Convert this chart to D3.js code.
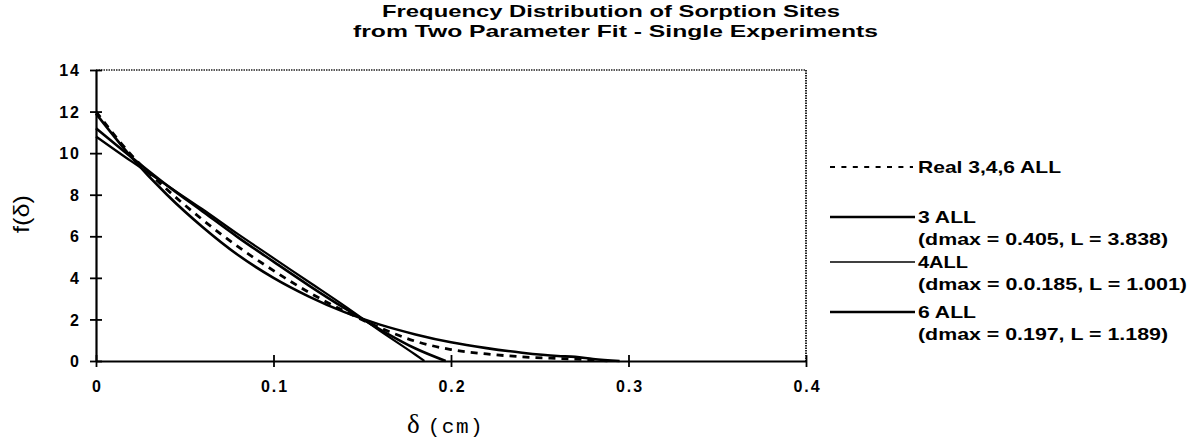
<!DOCTYPE html>
<html>
<head>
<meta charset="utf-8">
<script src="https://cdn.jsdelivr.net/npm/d3@7"></script>
<style>
  html, body { margin: 0; padding: 0; background: #fff; }
  svg { display: block; }
  text { fill: #000; }
</style>
</head>
<body>
<svg id="chart" width="1197" height="446"></svg>
<script>
// ---- Data ----
const titleLines = ["Frequency Distribution of Sorption Sites", "from Two Parameter Fit - Single Experiments"];
const xTicks = [0, 0.1, 0.2, 0.3, 0.4];
const xTickLabels = ["0", "0.1", "0.2", "0.3", "0.4"];
const yTicks = [0, 2, 4, 6, 8, 10, 12, 14];
const yTickLabels = ["0", "2", "4", "6", "8", "10", "12", "14"];

// Real 3,4,6 ALL (dashed)
const deltaReal = [0, 0.02, 0.04, 0.06, 0.08, 0.10, 0.12, 0.14, 0.16, 0.18, 0.20, 0.22, 0.24, 0.26, 0.28, 0.29];
const fReal     = [12.0, 9.9, 8.25, 6.8, 5.5, 4.35, 3.3, 2.4, 1.6, 0.95, 0.55, 0.34, 0.2, 0.12, 0.05, 0.0];

// 3 ALL (dmax = 0.405, L = 3.838)
const delta3 = [0, 0.02, 0.04, 0.06, 0.08, 0.10, 0.12, 0.14, 0.16, 0.18, 0.20, 0.22, 0.24, 0.26, 0.27, 0.28, 0.295];
const f3     = [11.9, 9.8, 8.0, 6.45, 5.1, 4.0, 3.1, 2.35, 1.75, 1.28, 0.9, 0.62, 0.4, 0.24, 0.2, 0.1, 0.0];

// 4ALL (dmax = 0.0.185, L = 1.001)
const delta4 = [0, 0.02, 0.04, 0.06, 0.08, 0.10, 0.12, 0.14, 0.16, 0.18, 0.185];
const f4     = [10.8, 9.6, 8.45, 7.3, 6.1, 4.95, 3.8, 2.65, 1.45, 0.3, 0.0];

// 6 ALL (dmax = 0.197, L = 1.189)
const delta6 = [0, 0.02, 0.04, 0.06, 0.08, 0.10, 0.12, 0.14, 0.16, 0.18, 0.197];
const f6     = [11.2, 9.8, 8.45, 7.2, 5.95, 4.78, 3.63, 2.54, 1.52, 0.6, 0.0];

const legendLabels = ["Real 3,4,6 ALL", "3 ALL", "(dmax = 0.405, L = 3.838)", "4ALL", "(dmax = 0.0.185, L = 1.001)", "6 ALL", "(dmax = 0.197, L = 1.189)"];

// ---- Layout ----
const svg = d3.select("#chart");
const mLeft = 96, mRight = 806, mTop = 70, mBottom = 361;
const x = d3.scaleLinear().domain([0, 0.4]).range([mLeft, mRight]);
const y = d3.scaleLinear().domain([0, 14]).range([mBottom, mTop]);
const font = "'Liberation Sans', Arial, Helvetica, sans-serif";

// Title
svg.append("text").attr("x", 382).attr("y", 17).attr("textLength", 458).attr("lengthAdjust", "spacingAndGlyphs")
  .style("font-family", font).style("font-weight", "bold").style("font-size", "17px").text(titleLines[0]);
svg.append("text").attr("x", 353).attr("y", 37).attr("textLength", 525).attr("lengthAdjust", "spacingAndGlyphs")
  .style("font-family", font).style("font-weight", "bold").style("font-size", "17px").text(titleLines[1]);

// Frame: dotted top and right
svg.append("line").attr("x1", mLeft).attr("x2", mRight).attr("y1", mTop).attr("y2", mTop)
  .attr("stroke", "#222").attr("stroke-width", 1.6).attr("stroke-dasharray", "1.5,1");
svg.append("line").attr("x1", mRight).attr("x2", mRight).attr("y1", mTop).attr("y2", mBottom)
  .attr("stroke", "#222").attr("stroke-width", 2).attr("stroke-dasharray", "1.5,1");

// Axes
const xAxis = d3.axisBottom(x).tickValues(xTicks).tickFormat((d, i) => xTickLabels[i]).tickSizeInner(6).tickSizeOuter(0).tickPadding(14);
const gx = svg.append("g").attr("transform", `translate(0,${mBottom})`).call(xAxis);
gx.select(".domain").attr("stroke", "#000").attr("stroke-width", 2.2);
gx.selectAll(".tick line").attr("y1", -6).attr("y2", 6).attr("stroke-width", 1.8);
gx.selectAll(".tick text").style("font-family", font).style("font-weight", "bold").style("font-size", "16px")
  .style("letter-spacing", "2px").attr("dx", "1px");

const yAxis = d3.axisLeft(y).tickValues(yTicks).tickFormat((d, i) => yTickLabels[i]).tickSizeInner(6).tickSizeOuter(0).tickPadding(9);
const gy = svg.append("g").attr("transform", `translate(${mLeft},0)`).call(yAxis);
gy.select(".domain").attr("stroke", "#000").attr("stroke-width", 2.2);
gy.selectAll(".tick line").attr("x1", -6).attr("x2", 6).attr("stroke-width", 1.8);
gy.selectAll(".tick text").style("font-family", font).style("font-weight", "bold").style("font-size", "16px")
  .style("letter-spacing", "2px").attr("dy", "0.35em");

// Axis titles
const xt = svg.append("text").attr("x", 407).attr("y", 433);
xt.append("tspan").style("font-family", "'Liberation Serif', 'Times New Roman', serif").style("font-size", "27px").text("δ");
xt.append("tspan").attr("dx", 8).style("font-family", "'Liberation Mono', 'Courier New', monospace").style("font-size", "21px")
  .style("letter-spacing", "1.5px").text("(cm)");

svg.append("text").attr("transform", "translate(29,214) rotate(-90)").attr("text-anchor", "middle")
  .style("font-family", font).style("font-size", "22px").attr("textLength", 38).attr("lengthAdjust", "spacingAndGlyphs").text("f(δ)");

// Curves
const line = d3.line().x(d => x(d[0])).y(d => y(d[1])).curve(d3.curveMonotoneX);
const series = [
  { xs: delta4, ys: f4, w: 2.2, dash: null },
  { xs: delta6, ys: f6, w: 2.6, dash: null },
  { xs: delta3, ys: f3, w: 2.6, dash: null },
  { xs: deltaReal, ys: fReal, w: 2.8, dash: "7,6" }
];
series.forEach(s => {
  svg.append("path").datum(d3.zip(s.xs, s.ys)).attr("d", line)
    .attr("fill", "none").attr("stroke", "#000").attr("stroke-width", s.w)
    .attr("stroke-linejoin", "round").attr("stroke-dasharray", s.dash);
});

// Legend
const lx1 = 830, lx2 = 913, tx = 918;
const legFont = (sel) => sel.style("font-family", font).style("font-weight", "bold").style("font-size", "16.5px");
svg.append("line").attr("x1", lx1).attr("x2", lx2).attr("y1", 167).attr("y2", 167)
  .attr("stroke", "#000").attr("stroke-width", 2).attr("stroke-dasharray", "5,6.4");
svg.append("text").attr("x", tx).attr("y", 173).attr("textLength", 143).attr("lengthAdjust", "spacingAndGlyphs").call(legFont).text(legendLabels[0]);

const legendRows = [
  { ly: 217, w: 2.4, label: 1, lenA: 58, sub: 2, lenB: 250, ty: 223, sy: 245 },
  { ly: 262, w: 1.6, label: 3, lenA: 50, sub: 4, lenB: 269, ty: 268, sy: 290 },
  { ly: 312, w: 2.4, label: 5, lenA: 58, sub: 6, lenB: 250, ty: 318, sy: 340 }
];
legendRows.forEach(r => {
  svg.append("line").attr("x1", lx1).attr("x2", lx2 + 2).attr("y1", r.ly).attr("y2", r.ly)
    .attr("stroke", "#000").attr("stroke-width", r.w);
  svg.append("text").attr("x", tx).attr("y", r.ty).attr("textLength", r.lenA).attr("lengthAdjust", "spacingAndGlyphs").call(legFont).text(legendLabels[r.label]);
  svg.append("text").attr("x", tx).attr("y", r.sy).attr("textLength", r.lenB).attr("lengthAdjust", "spacingAndGlyphs").call(legFont).text(legendLabels[r.sub]);
});
</script>
</body>
</html>
